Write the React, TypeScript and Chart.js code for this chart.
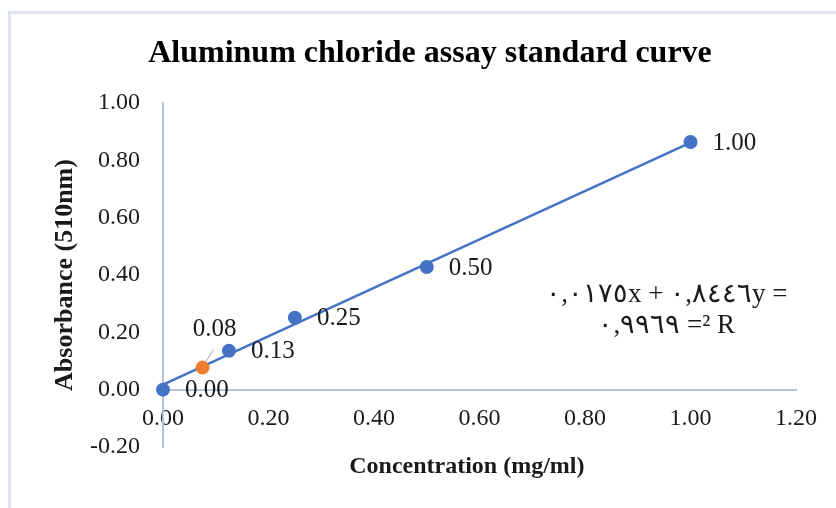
import React, { useEffect, useRef } from "react";
import { Chart, registerables } from "chart.js";

Chart.register(...registerables);

// Data
const concentrations = [0, 0.125, 0.25, 0.5, 1.0];
const absorbances = [0, 0.136, 0.251, 0.428, 0.864];
const pointLabels = ["0.00", "0.13", "0.25", "0.50", "1.00"];
const outlierConcentrations = [0.075];
const outlierAbsorbances = [0.077];
const outlierLabels = ["0.08"];
const trendConcentrations = [0, 1];
const trendAbsorbances = [0.0175, 0.862];
const equationLines = ["٠,٠١٧٥x + ٠,٨٤٤٦y =", "٠,٩٩٦٩ =² R"];

const chartTitle = "Aluminum chloride assay standard curve";
const xTitle = "Concentration (mg/ml)";
const yTitle = "Absorbance (510nm)";

const SERIF = "'Liberation Serif', 'Times New Roman', serif";
const TEXT = "#1a1a1a";
const AXIS = "#b4c2da";
const BLUE = "#4472c4";
const ORANGE = "#ed7d31";

const fmt = (v: any) => {
  const n = Number(v);
  return (Math.abs(n) < 1e-9 ? 0 : n).toFixed(2);
};

const labelPlugin = {
  id: "pointLabels",
  afterDatasetsDraw(chart: any) {
    const ctx = chart.ctx;
    const xs = chart.scales.x;
    const ys = chart.scales.y;
    const area = chart.chartArea;
    ctx.save();
    ctx.font = `25px ${SERIF}`;
    ctx.fillStyle = TEXT;
    ctx.textBaseline = "middle";
    ctx.textAlign = "left";
    const m0 = chart.getDatasetMeta(0);
    m0.data.forEach((el: any, i: number) => {
      ctx.fillText(pointLabels[i], el.x + 22, el.y + 1);
    });
    // outlier label with leader line
    const m1 = chart.getDatasetMeta(1);
    m1.data.forEach((el: any, i: number) => {
      ctx.strokeStyle = "#a6a6a6";
      ctx.lineWidth = 1;
      ctx.beginPath();
      ctx.moveTo(el.x + 2, el.y - 4);
      ctx.lineTo(el.x + 11, el.y - 18);
      ctx.stroke();
      ctx.textAlign = "center";
      ctx.fillText(outlierLabels[i], el.x + 12, el.y - 38);
    });
    // trendline equation
    ctx.font = `27px ${SERIF}`;
    ctx.textAlign = "center";
    const ex = xs.getPixelForValue(0.955);
    ctx.fillText(equationLines[0], ex, ys.getPixelForValue(0.331));
    ctx.fillText(equationLines[1], ex, ys.getPixelForValue(0.223));
    // x-axis title
    ctx.font = `bold 24px ${SERIF}`;
    ctx.fillText(xTitle, area.left + area.width * 0.48, area.bottom + 20);
    ctx.restore();
  },
};

export default function App() {
  const ref = useRef<HTMLCanvasElement>(null);
  useEffect(() => {
    if (!ref.current) return;
    const chart = new Chart(ref.current, {
      type: "scatter",
      data: {
        datasets: [
          {
            data: concentrations.map((x, i) => ({ x, y: absorbances[i] })),
            backgroundColor: BLUE,
            borderColor: BLUE,
            pointRadius: 7,
            borderWidth: 0,
            showLine: false,
            clip: false,
          },
          {
            data: outlierConcentrations.map((x, i) => ({ x, y: outlierAbsorbances[i] })),
            backgroundColor: ORANGE,
            borderColor: ORANGE,
            pointRadius: 7,
            borderWidth: 0,
            showLine: false,
            clip: false,
          },
          {
            data: trendConcentrations.map((x, i) => ({ x, y: trendAbsorbances[i] })),
            borderColor: BLUE,
            backgroundColor: BLUE,
            borderWidth: 2.5,
            pointRadius: 0,
            showLine: true,
            clip: false,
          },
        ],
      },
      options: {
        animation: false,
        responsive: false,
        layout: { padding: { left: 64, right: 40, top: 0, bottom: 61 } },
        plugins: {
          legend: { display: false },
          tooltip: { enabled: false },
          title: {
            display: true,
            text: chartTitle,
            color: "#000",
            font: { family: SERIF, size: 32, weight: "bold" },
            padding: { top: 35, bottom: 29.6 },
          },
        },
        scales: {
          x: {
            type: "linear",
            position: { y: 0 } as any,
            min: 0,
            max: 1.2,
            grid: { display: false, drawTicks: false },
            border: { display: true, color: AXIS, width: 2 },
            ticks: {
              stepSize: 0.2,
              padding: 15,
              color: TEXT,
              font: { family: SERIF, size: 24 },
              maxRotation: 0,
              callback: fmt,
            },
            afterFit: (s: any) => {
              s.height = 0;
            },
          },
          y: {
            type: "linear",
            position: "left",
            min: -0.2,
            max: 1.0,
            grid: { display: false, drawTicks: false },
            border: { display: true, color: AXIS, width: 2 },
            ticks: {
              stepSize: 0.2,
              padding: 23,
              color: TEXT,
              font: { family: SERIF, size: 24 },
              callback: fmt,
            },
            title: {
              display: true,
              text: yTitle,
              color: TEXT,
              font: { family: SERIF, size: 26, weight: "bold" },
              padding: { top: -14.6, bottom: 0 },
            },
            afterFit: (s: any) => {
              s.width = 99;
            },
          },
        },
      } as any,
      plugins: [labelPlugin],
    });
    return () => chart.destroy();
  }, []);

  return (
    <div style={{ position: "absolute", left: 0, top: 0, width: 836, height: 508, overflow: "hidden", background: "#fff" }}>
      <div
        style={{
          position: "absolute",
          left: 8,
          top: 11,
          width: 900,
          height: 600,
          border: "3px solid #e1e6ee",
          boxSizing: "border-box",
        }}
      />
      <canvas ref={ref} width={836} height={508} style={{ position: "absolute", left: 0, top: 0 }} />
    </div>
  );
}
